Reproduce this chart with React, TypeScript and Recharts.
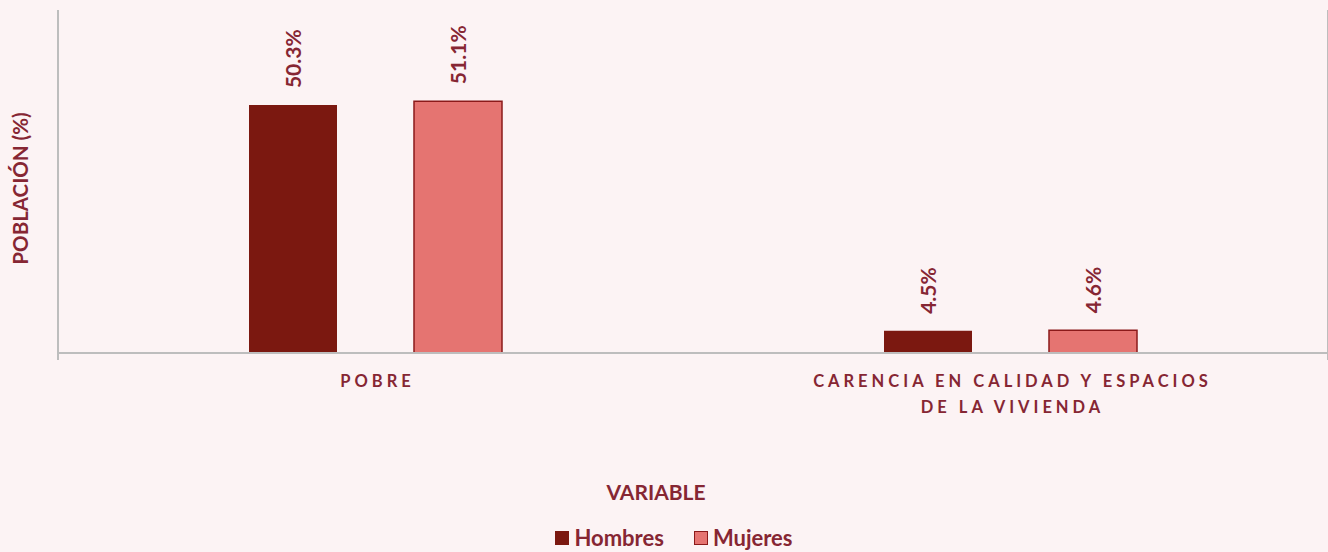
import React from 'react';
import { BarChart, Bar, XAxis, YAxis, LabelList, ReferenceLine, Legend } from 'recharts';

// categorías y valores (%)
const categorias = ['POBRE', 'CARENCIA EN CALIDAD Y ESPACIOS|DE LA VIVIENDA'];
const hombres = [50.3, 4.5];
const mujeres = [51.1, 4.6];

const data = categorias.map((c, i) => ({ name: c, Hombres: hombres[i], Mujeres: mujeres[i] }));

const TEXTO = '#862633';
const GRIS = '#BDBDBD';
const FUENTE = 'Lato, "Open Sans", sans-serif';

const TickCategoria = (props: any) => {
  const { x, y, payload } = props;
  const lineas = String(payload.value).split('|');
  return (
    <g transform={`translate(${x},${y})`}>
      {lineas.map((l, i) => (
        <text
          key={i}
          x={2}
          y={26 + i * 26}
          textAnchor="middle"
          fill={TEXTO}
          fontFamily={FUENTE}
          fontWeight={700}
          fontSize={16.5}
          letterSpacing={4}
        >
          {l}
        </text>
      ))}
    </g>
  );
};

const EtiquetaValor = (props: any) => {
  const { x, y, width, value } = props;
  const cx = x + width / 2;
  const cy = y - 17;
  return (
    <text
      x={cx}
      y={cy}
      transform={`rotate(-90 ${cx} ${cy})`}
      textAnchor="start"
      dominantBaseline="central"
      fill={TEXTO}
      fontFamily={FUENTE}
      fontWeight={700}
      fontSize={21}
    >
      {`${value.toFixed(1)}%`}
    </text>
  );
};

// línea vertical que baja un poco por debajo del eje
const LineaDivisor = (p: any) => {
  const top = Math.min(p.y1, p.y2);
  const bottom = Math.max(p.y1, p.y2);
  return <line x1={p.x1} x2={p.x2} y1={top + 2} y2={bottom + 7} stroke={GRIS} strokeWidth={2} />;
};

const Leyenda = () => (
  <div
    style={{
      display: 'flex',
      justifyContent: 'center',
      gap: 30,
      paddingLeft: 20,
      fontFamily: FUENTE,
      fontWeight: 700,
      fontSize: 22,
      color: TEXTO,
    }}
  >
    <div style={{ display: 'flex', alignItems: 'center', gap: 5 }}>
      <div style={{ width: 14, height: 14, background: '#7B1810' }}></div>
      <span>Hombres</span>
    </div>
    <div style={{ display: 'flex', alignItems: 'center', gap: 5 }}>
      <div style={{ width: 12, height: 12, background: '#E57471', border: '1.5px solid #8B1A1A' }}></div>
      <span>Mujeres</span>
    </div>
  </div>
);

export default function App() {
  return (
    <div style={{ position: 'absolute', left: 0, top: 0, width: 1328, height: 552, background: '#FCF3F4' }}>
      <BarChart
        width={1328}
        height={552}
        data={data}
        margin={{ top: 8, right: 0, bottom: 0, left: 0 }}
        barSize={88}
        barGap={77}
      >
        <XAxis
          dataKey="name"
          axisLine={{ stroke: GRIS, strokeWidth: 2 }}
          tickLine={false}
          tick={<TickCategoria />}
          interval={0}
          height={171}
          label={{
            value: 'VARIABLE',
            position: 'insideBottom',
            offset: 24,
            dx: -37,
            fill: TEXTO,
            fontFamily: FUENTE,
            fontWeight: 700,
            fontSize: 21,
          }}
        />
        <XAxis xAxisId="div" type="number" domain={[0, 2]} hide />
        <YAxis
          domain={[0, 70]}
          width={58}
          tick={false}
          tickLine={false}
          axisLine={false}
          label={{
            value: 'POBLACIÓN (%)',
            angle: -90,
            position: 'center',
            dx: -8,
            dy: 8,
            fill: TEXTO,
            fontFamily: FUENTE,
            fontWeight: 700,
            fontSize: 20.5,
          }}
        />
        <ReferenceLine xAxisId="div" x={0} shape={LineaDivisor} />
        <ReferenceLine xAxisId="div" x={1} shape={LineaDivisor} />
        <Legend verticalAlign="bottom" height={28} content={<Leyenda />} />
        <Bar dataKey="Hombres" fill="#7B1810" isAnimationActive={false}>
          <LabelList dataKey="Hombres" content={<EtiquetaValor />} />
        </Bar>
        <Bar dataKey="Mujeres" fill="#E57471" stroke="#8B1A1A" strokeWidth={1.5} isAnimationActive={false}>
          <LabelList dataKey="Mujeres" content={<EtiquetaValor />} />
        </Bar>
      </BarChart>
    </div>
  );
}
